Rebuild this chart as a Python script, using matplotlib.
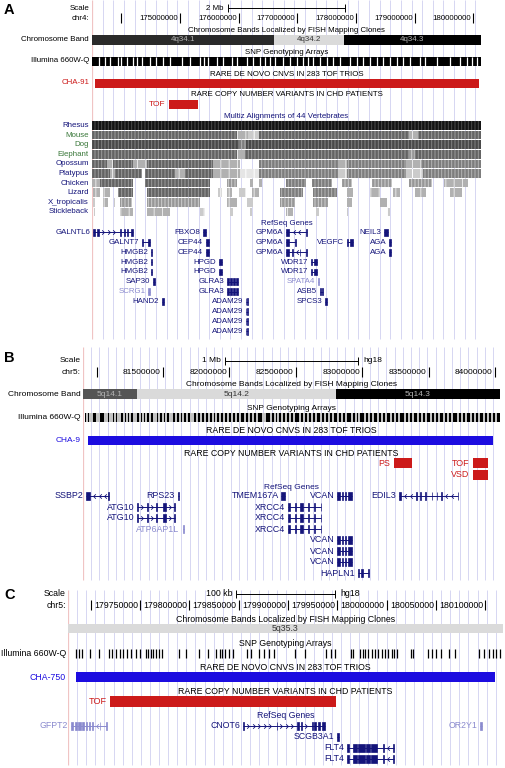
import numpy as np
import matplotlib
matplotlib.use("Agg")
import matplotlib.pyplot as plt
from matplotlib.patches import Rectangle
from matplotlib.path import Path

plt.rcParams['font.family'] = ['Liberation Sans', 'DejaVu Sans']
plt.rcParams['hatch.linewidth'] = 0.7

W, H = 506, 768
fig = plt.figure(figsize=(W / 100, H / 100), dpi=100)

NAVY = '#14147a'
LIGHTG = '#8a8ace'
GREEN = '#3a783a'
RED = '#cc1a1a'
BLUE = '#1c0ce0'
GRID = '#d6d6f2'
PINK = '#f0c4c4'

# ---------------- data: panel A (chr4, Mb) ----------------
a_ticks = [174, 175, 176, 177, 178, 179, 180]
a_bands = [(173.50, 176.60, '4q34.1', '#2a2a2a'), (176.60, 177.79, '4q34.2', '#dadada'),
           (177.79, 180.13, '4q34.3', '#000000')]
a_snp = (173.50, 180.13)
a_snp_gaps = [173.615, 173.72, 173.81, 173.94, 173.99, 174.10, 174.20, 174.26, 174.35, 174.49,
              174.59, 174.71, 174.83, 175.03, 175.17, 175.34, 175.41, 175.48, 175.63, 175.73,
              175.88, 175.97, 176.14, 176.25, 176.36, 176.45, 176.53, 176.62, 176.75, 176.87,
              176.99, 177.10, 177.18, 177.27, 177.39, 177.50, 177.61, 177.73, 177.90, 178.01,
              178.12, 178.24, 178.36, 178.46, 178.58, 178.70, 178.80, 178.92, 179.09, 179.17,
              179.38, 179.60, 179.77, 179.89, 179.98, 180.06]
a_denovo = [('CHA-91', 173.552, 180.096)]
a_chd = [('TOF', 174.813, 175.307)]

species = ['Rhesus', 'Mouse', 'Dog', 'Elephant', 'Opossum', 'Platypus', 'Chicken', 'Lizard',
           'X_tropicalis', 'Stickleback']
species_colors = [NAVY, GREEN, GREEN, GREEN, NAVY, NAVY, NAVY, NAVY, NAVY, NAVY]
cons_rhesus = [(173.50, 180.13, 9)]
cons_mouse = [(173.50, 175.98, 6), (175.98, 176.16, 3), (176.16, 176.35, 2), (176.35, 178.90, 6),
              (178.90, 179.05, 3), (179.05, 180.13, 6)]
cons_dog = [(173.50, 176.00, 7), (176.00, 176.13, 5), (176.13, 180.13, 7)]
cons_elephant = [(173.50, 175.98, 6), (175.98, 176.10, 3), (176.10, 178.90, 6), (178.90, 179.00, 4),
                 (179.00, 180.13, 6)]
cons_opossum = [(173.50, 173.76, 6), (173.76, 173.86, 3), (173.86, 174.20, 6), (174.20, 174.44, 3),
                (174.44, 175.57, 6), (175.57, 176.03, 3), (176.35, 177.70, 5), (177.70, 177.85, 3),
                (177.85, 178.85, 5), (178.85, 179.10, 3), (179.10, 180.13, 5)]
cons_platypus = [(173.50, 173.80, 6), (173.80, 173.90, 3), (173.90, 174.35, 6), (174.40, 174.92, 6),
                 (174.92, 175.09, 3), (175.09, 175.57, 6), (175.57, 176.03, 3), (176.03, 176.35, 1),
                 (176.35, 177.70, 5), (177.70, 177.85, 2), (177.85, 178.85, 5), (178.85, 179.15, 2),
                 (179.15, 180.13, 5)]
cons_chicken = [(173.50, 173.64, 3), (173.64, 174.20, 6), (174.40, 175.51, 6), (175.80, 175.97, 4),
                (176.19, 176.24, 3), (176.35, 176.40, 3), (176.81, 177.15, 5), (177.25, 177.59, 5),
                (177.76, 177.93, 4), (178.27, 178.61, 4), (178.9, 179.3, 4), (179.5, 179.9, 3)]
cons_lizard = [(173.52, 173.64, 3), (173.69, 173.81, 3), (173.94, 174.20, 6), (174.44, 175.51, 6),
               (175.64, 175.71, 2), (175.80, 175.88, 3), (176.00, 176.12, 2), (176.22, 176.35, 3),
               (176.71, 177.10, 5), (177.27, 177.68, 5), (177.85, 177.95, 3), (178.24, 178.41, 3),
               (178.63, 178.75, 3), (179.0, 179.2, 3), (179.6, 179.8, 3)]
cons_xtrop = [(173.52, 173.55, 2), (173.69, 173.78, 3), (173.88, 173.90, 2), (173.97, 174.18, 4),
              (174.44, 175.34, 4), (175.80, 175.97, 3), (176.14, 176.25, 2), (176.71, 176.96, 4),
              (177.27, 177.53, 4), (177.85, 177.93, 3), (178.41, 178.53, 3)]
cons_stickle = [(173.53, 173.55, 2), (173.97, 174.20, 3), (174.44, 174.83, 3), (175.34, 175.43, 2),
                (175.85, 175.90, 2), (176.19, 176.22, 2), (176.81, 176.92, 3), (177.32, 177.37, 2),
                (177.85, 177.87, 2), (178.53, 178.58, 2)]
cons_all = [cons_rhesus, cons_mouse, cons_dog, cons_elephant, cons_opossum, cons_platypus,
            cons_chicken, cons_lizard, cons_xtrop, cons_stickle]

# name, start, end, row, light, strand, exons
a_genes = [
    ('GALNTL6', 173.518, 174.199, 0, False, '+', [(173.52, 173.55), (173.59, 173.62), (173.98, 174.00),
                                                 (174.05, 174.07), (174.10, 174.12), (174.17, 174.20)]),
    ('GALNT7', 174.353, 174.489, 1, False, '+', [(174.35, 174.37), (174.45, 174.49)]),
    ('HMGB2', 174.506, 174.53, 2, False, '-', [(174.506, 174.53)]),
    ('HMGB2', 174.506, 174.53, 3, False, '-', [(174.506, 174.53)]),
    ('HMGB2', 174.506, 174.53, 4, False, '-', [(174.506, 174.53)]),
    ('SAP30', 174.54, 174.57, 5, False, '+', [(174.54, 174.57)]),
    ('SCRG1', 174.46, 174.49, 6, True, '-', [(174.46, 174.49)]),
    ('HAND2', 174.69, 174.72, 7, False, '-', [(174.69, 174.72)]),
    ('FBXO8', 175.40, 175.44, 0, False, '-', [(175.40, 175.44)]),
    ('CEP44', 175.44, 175.49, 1, False, '+', [(175.44, 175.49)]),
    ('CEP44', 175.44, 175.49, 2, False, '+', [(175.44, 175.49)]),
    ('HPGD', 175.66, 175.71, 3, False, '-', [(175.66, 175.71)]),
    ('HPGD', 175.66, 175.71, 4, False, '-', [(175.66, 175.71)]),
    ('GLRA3', 175.80, 175.99, 5, False, '-', [(175.80, 175.83), (175.86, 175.88), (175.91, 175.93), (175.95, 175.99)]),
    ('GLRA3', 175.80, 175.99, 6, False, '-', [(175.80, 175.83), (175.86, 175.88), (175.91, 175.93), (175.95, 175.99)]),
    ('ADAM29', 176.12, 176.16, 7, False, '+', [(176.12, 176.13), (176.15, 176.16)]),
    ('ADAM29', 176.12, 176.16, 8, False, '+', [(176.12, 176.13), (176.15, 176.16)]),
    ('ADAM29', 176.12, 176.16, 9, False, '+', [(176.12, 176.13), (176.15, 176.16)]),
    ('ADAM29', 176.12, 176.16, 10, False, '+', [(176.12, 176.13), (176.15, 176.16)]),
    ('GPM6A', 176.81, 177.17, 0, False, '-', [(176.81, 176.86), (177.15, 177.17)]),
    ('GPM6A', 176.81, 176.98, 1, False, '-', [(176.81, 176.86), (176.96, 176.98)]),
    ('GPM6A', 176.81, 177.17, 2, False, '-', [(176.81, 176.86), (176.91, 176.92), (177.04, 177.05), (177.15, 177.17)]),
    ('WDR17', 177.23, 177.34, 3, False, '+', [(177.23, 177.25), (177.28, 177.34)]),
    ('WDR17', 177.23, 177.34, 4, False, '+', [(177.23, 177.25), (177.28, 177.34)]),
    ('SPATA4', 177.35, 177.37, 5, True, '-', [(177.35, 177.37)]),
    ('ASB5', 177.39, 177.43, 6, False, '-', [(177.39, 177.40), (177.42, 177.43)]),
    ('SPCS3', 177.47, 177.50, 7, False, '+', [(177.47, 177.50)]),
    ('VEGFC', 177.84, 177.95, 1, False, '-', [(177.84, 177.87), (177.90, 177.95)]),
    ('NEIL3', 178.48, 178.54, 0, False, '+', [(178.48, 178.54)]),
    ('AGA', 178.57, 178.60, 1, False, '-', [(178.57, 178.60)]),
    ('AGA', 178.57, 178.60, 2, False, '-', [(178.57, 178.60)]),
]

# ---------------- data: panel B (chr5, Mb) ----------------
b_ticks = [81.0, 81.5, 82.0, 82.5, 83.0, 83.5, 84.0]
b_bands = [(80.898, 81.304, '5q14.1', '#555555'), (81.304, 82.803, '5q14.2', '#dadada'),
           (82.803, 84.038, '5q14.3', '#000000')]
b_snp = (80.91, 84.035)
b_snp_gaps = [80.93, 80.95, 80.965, 81.00, 81.02, 81.06, 81.08, 81.10, 81.115, 81.14, 81.16,
              81.18, 81.21, 81.23, 81.25, 81.28, 81.30, 81.33, 81.35, 81.37, 81.40, 81.43, 81.45,
              81.47, 81.50, 81.52, 81.55, 81.57, 81.60, 81.63, 81.65, 81.68, 81.71, 81.73, 81.76,
              81.79, 81.82, 81.85, 81.88, 81.90, 81.93, 81.96, 81.99, 82.02, 82.05, 82.08, 82.12,
              82.15, 82.18, 82.21, 82.25, 82.27, 82.31, 82.34, 82.37, 82.40, 82.43, 82.46, 82.49,
              82.53, 82.56, 82.59, 82.62, 82.65, 82.69, 82.72, 82.75, 82.78, 82.82, 82.85, 82.88,
              82.92, 82.95, 82.98, 83.02, 83.05, 83.08, 83.12, 83.15, 83.18, 83.22, 83.25, 83.28,
              83.32, 83.35, 83.38, 83.42, 83.45, 83.48, 83.52, 83.55, 83.58, 83.62, 83.65, 83.68,
              83.72, 83.75, 83.78, 83.82, 83.85, 83.88, 83.92, 83.95, 83.98, 84.01]
b_denovo = [('CHA-9', 80.936, 83.985)]
b_chd = [('PS', 83.240, 83.375, 0), ('TOF', 83.835, 83.948, 0), ('VSD', 83.835, 83.948, 1)]
atg10_exons = [(81.3046, 81.3121), (81.3777, 81.3837), (81.4477, 81.4552), (81.5004, 81.5207), (81.5855, 81.5908)]
xrcc4_exons = [(82.4394, 82.4568), (82.4944, 82.502), (82.5321, 82.5524), (82.5946, 82.5999),
               (82.6375, 82.645), (82.6864, 82.6902)]
vcan_exons = [(82.8106, 82.8332), (82.8445, 82.8558), (82.8671, 82.8784), (82.8897, 82.9213)]
b_genes = [
    ('SSBP2', 80.9206, 81.0938, 0, False, '-', [(80.9206, 80.9507), (81.090, 81.0938)]),
    ('RPS23', 81.6096, 81.621, 0, False, '-', [(81.6096, 81.621)]),
    ('ATG10', 81.3046, 81.5908, 1, False, '+', atg10_exons),
    ('ATG10', 81.3046, 81.5908, 2, False, '+', atg10_exons),
    ('ATP6AP1L', 81.6473, 81.6586, 3, True, '+', [(81.6473, 81.6586)]),
    ('TMEM167A', 82.3927, 82.4153, 0, False, '-', [(82.3927, 82.4153)]),
    ('XRCC4', 82.4394, 82.6902, 1, False, '+', xrcc4_exons),
    ('XRCC4', 82.4394, 82.6902, 2, False, '+', xrcc4_exons),
    ('XRCC4', 82.4394, 82.6902, 3, False, '+', xrcc4_exons),
    ('VCAN', 82.8106, 82.9213, 0, False, '+', vcan_exons),
    ('VCAN', 82.8106, 82.9213, 4, False, '+', vcan_exons),
    ('VCAN', 82.8106, 82.9213, 5, False, '+', vcan_exons),
    ('VCAN', 82.8106, 82.9213, 6, False, '+', vcan_exons),
    ('HAPLN1', 82.9688, 83.0516, 7, False, '-', [(82.9688, 82.9763), (82.9914, 83.0064), (83.0478, 83.0516)]),
    ('EDIL3', 83.2775, 83.724, 0, False, '-', [(83.2775, 83.2903), (83.4032, 83.4093), (83.4356, 83.4416),
                                              (83.4733, 83.4793), (83.5237, 83.5297), (83.5613, 83.5673),
                                              (83.5937, 83.5997), (83.718, 83.724)]),
]

# ---------------- data: panel C (chr5, Mb) ----------------
c_ticks = [179.70, 179.75, 179.80, 179.85, 179.90, 179.95, 180.00, 180.05, 180.10]
c_bands = [(179.677, 180.118, '5q35.3', '#dadada')]
c_snps = [179.685, 179.688, 179.691, 179.699, 179.708, 179.719, 179.722, 179.726, 179.730,
          179.733, 179.737, 179.741, 179.746, 179.750, 179.756, 179.758, 179.761, 179.763,
          179.766, 179.769, 179.772, 179.790, 179.797, 179.810, 179.819, 179.827, 179.831,
          179.833, 179.836, 179.840, 179.844, 179.858, 179.863, 179.871, 179.876, 179.881,
          179.886, 179.907, 179.917, 179.939, 179.944, 179.948, 179.964, 179.966, 179.973,
          179.976, 179.978, 179.981, 179.985, 179.988, 179.991, 179.995, 179.998, 180.001,
          180.005, 180.008, 180.011, 180.025, 180.027, 180.042, 180.046, 180.050, 180.055,
          180.063, 180.069, 180.094, 180.099, 180.104, 180.108, 180.111, 180.115]
c_denovo = [('CHA-750', 179.685, 180.110)]
c_chd = [('TOF', 179.7196, 179.9485)]
flt4_exons = [(179.9602, 179.9619), (179.9663, 179.9697), (179.9713, 179.9781), (179.9792, 179.9832),
              (179.9839, 179.9906), (179.9967, 179.9972), (180.0068, 180.0078)]
c_genes = [
    ('GFPT2', 179.680, 179.7165, 0, True, '-', [(179.680, 179.682), (179.6836, 179.6861), (179.6876, 179.6902),
                                               (179.6917, 179.6932), (179.6953, 179.6963), (179.6978, 179.6988),
                                               (179.7013, 179.7023), (179.709, 179.7096), (179.716, 179.7165)]),
    ('CNOT6', 179.8545, 179.9376, 0, False, '+', [(179.8545, 179.8555), (179.8884, 179.8889), (179.9087, 179.9107),
                                                 (179.9137, 179.9142), (179.9239, 179.9254), (179.9264, 179.9289),
                                                 (179.9305, 179.9325), (179.934, 179.9376)]),
    ('SCGB3A1', 179.9498, 179.9513, 1, False, '-', [(179.9498, 179.9513)]),
    ('FLT4', 179.9602, 180.0078, 2, False, '-', flt4_exons),
    ('FLT4', 179.9602, 180.0078, 3, False, '-', flt4_exons),
    ('OR2Y1', 180.0948, 180.0963, 0, True, '-', [(180.0948, 180.0963)]),
]

CHEV_FWD = Path([(-0.6, 1), (0.4, 0), (-0.6, -1)], [Path.MOVETO, Path.LINETO, Path.LINETO])
CHEV_REV = Path([(0.6, 1), (-0.4, 0), (0.6, -1)], [Path.MOVETO, Path.LINETO, Path.LINETO])


def make_panel(x0, x1, y0, y1, mb0, mb1, grid_px, grid_top, grid_bot):
    ax = fig.add_axes([x0 / W, 1 - y1 / H, (x1 - x0) / W, (y1 - y0) / H])
    ax.set_xlim(mb0, mb1)
    ax.set_ylim(y1, y0)
    ax.axis('off')
    ax.mb_per_px = (mb1 - mb0) / (x1 - x0)
    step = ax.mb_per_px * grid_px
    ax.vlines(np.arange(mb0 + step, mb1, step), grid_top, grid_bot, color=GRID, lw=0.7, zorder=0)
    ax.vlines(mb0, grid_top, grid_bot, color=PINK, lw=0.9, zorder=0)
    return ax


def left_label(ax, xpx, y, text, fs, color='black'):
    ax.annotate(text, xy=(xpx, y), xycoords=('figure pixels', 'data'), ha='right', va='center',
                fontsize=fs, color=color, annotation_clip=False)


def title(ax, y, text, fs, color='black'):
    lo, hi = ax.get_xlim()
    ax.text((lo + hi) / 2, y, text, ha='center', va='center', fontsize=fs, color=color)


def ruler(ax, lab_x, y_scale, y_ruler, tick_lo, tick_hi, ticks, chrom, scale_len, scale_txt, fs, hg=True):
    left_label(ax, lab_x, y_scale, 'Scale', fs)
    left_label(ax, lab_x, y_ruler, chrom, fs)
    lo, hi = ax.get_xlim()
    c = (lo + hi) / 2
    ax.hlines(y_scale, c - scale_len / 2, c + scale_len / 2, color='black', lw=0.7)
    ax.vlines([c - scale_len / 2, c + scale_len / 2], y_scale - 4, y_scale + 4, color='black', lw=0.7)
    ax.annotate(scale_txt, xy=(c - scale_len / 2, y_scale), xytext=(-3, 0), textcoords='offset points',
                ha='right', va='center', fontsize=fs)
    if hg:
        ax.annotate('hg18', xy=(c + scale_len / 2, y_scale), xytext=(4, 0), textcoords='offset points',
                    ha='left', va='center', fontsize=fs)
    ax.vlines(ticks, tick_lo, tick_hi, color='black', lw=0.8)
    for t in ticks[1:]:
        ax.annotate('%d' % round(t * 1e6), xy=(t, y_ruler), xytext=(-1.5, 0), textcoords='offset points',
                    ha='right', va='center', fontsize=fs)


def bands(ax, y0, y1, data, fs):
    for s, e, name, col in data:
        ax.add_patch(Rectangle((s, y0), e - s, y1 - y0, facecolor=col, edgecolor='none'))
        tc = '#333333' if col == '#dadada' else '#b4b4b4'
        ax.text((s + e) / 2, (y0 + y1) / 2, name, ha='center', va='center', fontsize=fs, color=tc)


def genes(ax, data, y_first, step, h, fs):
    sp = ax.mb_per_px * 5.5
    for name, s, e, row, light, strand, exons in data:
        col = LIGHTG if light else NAVY
        y = y_first + step * row
        ax.hlines(y, s, e, color=col, lw=0.7)
        for es, ee in exons:
            ax.add_patch(Rectangle((es, y - h / 2), ee - es, h, facecolor=col, edgecolor=col, lw=0.5))
        # strand chevrons on the intron stretches
        for (_, a), (b, _) in zip(exons[:-1], exons[1:]):
            if b - a > sp * 1.2:
                xs = np.arange(a + sp * 0.8, b - sp * 0.4, sp)
                ax.plot(xs, np.full(len(xs), y), ls='none', color=col,
                        marker=CHEV_FWD if strand == '+' else CHEV_REV, ms=3.2, mew=0.6, fillstyle='none')
        ax.annotate(name, xy=(s, y), xytext=(-2, 0), textcoords='offset points', ha='right',
                    va='center', fontsize=fs, color=col)


# ================= Panel A =================
fsA = 5.7
axA = make_panel(92, 481, 0, 345, 173.501, 180.13, 10.65, 0, 339)
fig.text(4 / W, 1 - 10 / H, 'A', fontsize=10.5, fontweight='bold', va='center')
ruler(axA, 89, 8, 18, 13, 22.5, a_ticks, 'chr4:', 2.0, '2 Mb', fsA, hg=False)
title(axA, 31, 'Chromosome Bands Localized by FISH Mapping Clones', fsA)
left_label(axA, 89, 39.5, 'Chromosome Band', fsA)
bands(axA, 34.5, 44.5, a_bands, fsA)
title(axA, 52, 'SNP Genotyping Arrays', fsA)
left_label(axA, 89, 61, 'Illumina 660W-Q', fsA)
axA.add_patch(Rectangle((a_snp[0], 56.5), a_snp[1] - a_snp[0], 9, facecolor='black'))
axA.vlines(a_snp_gaps, 56.5, 65.5, color='white', lw=0.9)
title(axA, 74, 'RARE DE NOVO CNVS IN 283 TOF TRIOS', fsA)
for name, s, e in a_denovo:
    axA.add_patch(Rectangle((s, 78.5), e - s, 9, facecolor=RED))
    left_label(axA, 89, 83, name, fsA, RED)
title(axA, 95, 'RARE COPY NUMBER VARIANTS IN CHD PATIENTS', fsA)
for name, s, e in a_chd:
    axA.add_patch(Rectangle((s, 99.5), e - s, 9, facecolor=RED))
    axA.annotate(name, xy=(s, 104), xytext=(-2.5, 0), textcoords='offset points', ha='right',
                 va='center', fontsize=fsA + 0.3, color=RED)
title(axA, 117, 'Multiz Alignments of 44 Vertebrates', fsA, NAVY)
for k, (sp, col, segs) in enumerate(zip(species, species_colors, cons_all)):
    y = 125.6 + 9.58 * k
    left_label(axA, 89, y, sp, fsA, col)
    for s, e, lev in segs:
        g = 1 - lev / 9 * 0.92
        hc = min(1.0, g + 0.22)
        axA.add_patch(Rectangle((s, y - 4.3), e - s, 8.6, facecolor=(g, g, g), edgecolor=(hc, hc, hc),
                                lw=0, hatch='|||||' if lev >= 4 else '||'))
title(axA, 223.7, 'RefSeq Genes', fsA, NAVY)
genes(axA, a_genes, 232.3, 9.9, 6.8, fsA)

# ================= Panel B =================
fsB = 6.0
axB = make_panel(83, 500, 345, 584, 80.898, 84.038, 8.2, 347, 580)
fig.text(4 / W, 1 - 357.5 / H, 'B', fontsize=10.5, fontweight='bold', va='center')
ruler(axB, 81, 360.7, 372.3, 366.5, 376.5, b_ticks, 'chr5:', 1.0, '1 Mb', fsB)
title(axB, 384, 'Chromosome Bands Localized by FISH Mapping Clones', fsB)
left_label(axB, 81, 394, 'Chromosome Band', fsB)
bands(axB, 389, 399, b_bands, fsB)
title(axB, 408, 'SNP Genotyping Arrays', fsB)
left_label(axB, 81, 417.5, 'Illumina 660W-Q', fsB)
axB.add_patch(Rectangle((b_snp[0], 413), b_snp[1] - b_snp[0], 9.3, facecolor='black'))
axB.vlines(b_snp_gaps, 413, 422.3, color='white', lw=1.1)
title(axB, 430.7, 'RARE DE NOVO CNVS IN 283 TOF TRIOS', fsB + 0.3)
for name, s, e in b_denovo:
    axB.add_patch(Rectangle((s, 436), e - s, 9.3, facecolor=BLUE))
    left_label(axB, 81, 440.5, name, fsB, BLUE)
title(axB, 453, 'RARE COPY NUMBER VARIANTS IN CHD PATIENTS', fsB + 0.3)
for name, s, e, row in b_chd:
    y = 463 + 11.8 * row
    axB.add_patch(Rectangle((s, y - 4.7), e - s, 9.4, facecolor=RED))
    axB.annotate(name, xy=(s, y), xytext=(-2.5, 0), textcoords='offset points', ha='right',
                 va='center', fontsize=fsB + 0.4, color=RED)
title(axB, 487.3, 'RefSeq Genes', fsB, NAVY)
genes(axB, b_genes, 496, 11, 7.4, fsB + 0.4)

# ================= Panel C =================
fsC = 6.3
axC = make_panel(68, 503, 588, 768, 179.677, 180.118, 9.1, 590, 765)
fig.text(4 / W, 1 - 595 / H, 'C', fontsize=10.5, fontweight='bold', va='center')
ruler(axC, 66, 594, 605, 600, 610, c_ticks, 'chr5:', 0.1, '100 kb', fsC)
title(axC, 619.3, 'Chromosome Bands Localized by FISH Mapping Clones', fsC)
bands(axC, 624, 633.3, c_bands, fsC)
title(axC, 643.3, 'SNP Genotyping Arrays', fsC)
left_label(axC, 66, 653, 'Illumina 660W-Q', fsC)
axC.vlines(c_snps, 648.5, 658, color='black', lw=0.9)
title(axC, 667.6, 'RARE DE NOVO CNVS IN 283 TOF TRIOS', fsC)
for name, s, e in c_denovo:
    axC.add_patch(Rectangle((s, 672), e - s, 10.3, facecolor=BLUE))
    left_label(axC, 66, 677, name, fsC, BLUE)
title(axC, 691, 'RARE COPY NUMBER VARIANTS IN CHD PATIENTS', fsC)
for name, s, e in c_chd:
    axC.add_patch(Rectangle((s, 696.3), e - s, 10.3, facecolor=RED))
    axC.annotate(name, xy=(s, 701.4), xytext=(-2.5, 0), textcoords='offset points', ha='right',
                 va='center', fontsize=fsC + 0.3, color=RED)
title(axC, 716, 'RefSeq Genes', fsC, NAVY)
genes(axC, c_genes, 725.7, 11, 7.6, fsC)

fig.savefig('out.png', dpi=100)
